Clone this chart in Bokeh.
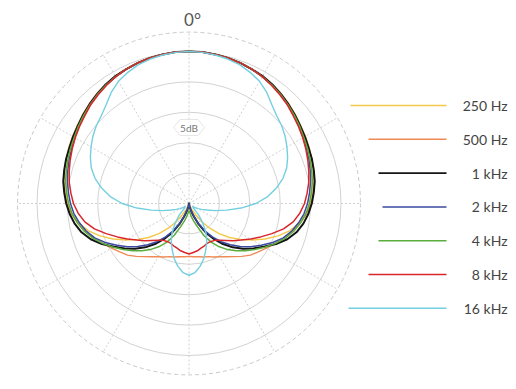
import numpy as np
from bokeh.plotting import figure
from bokeh.models import Range1d
from bokeh.core.properties import value
from bokeh.embed import file_html
from bokeh.resources import INLINE

# ---------------- data (dB vs angle, one half; pattern is symmetric) ----------------
angles = list(range(0, 181, 5))

db_250 = [0, 0, -0.1, -0.2, -0.4, -0.6, -0.9, -1.2, -1.6, -2.0, -2.4, -2.8, -3.2, -3.5, -3.8, -4.1, -4.4, -4.7, -5.1,
          -5.7, -6.6, -7.8, -9.4, -11.2, -13.0, -14.7, -16.3, -18.0, -19.7, -21.4, -23.0, -23.9, -24.5, -24.8, -25.0, -25.0, -25.0]
db_500 = [0, 0, -0.1, -0.2, -0.4, -0.6, -0.8, -1.1, -1.4, -1.8, -2.2, -2.6, -2.9, -3.2, -3.5, -3.8, -4.1, -4.5, -4.9,
          -5.6, -6.4, -7.4, -8.4, -9.4, -10.3, -11.1, -11.8, -12.7, -13.6, -14.3, -14.9, -15.3, -15.7, -15.9, -16.1, -16.2, -16.3]
db_1k = [0, 0, -0.1, -0.2, -0.4, -0.6, -0.8, -1.1, -1.5, -1.9, -2.3, -2.7, -3.0, -3.3, -3.5, -3.75, -4.0, -4.4, -4.8,
         -5.3, -5.9, -6.7, -7.8, -9.2, -10.8, -12.1, -13.4, -14.8, -16.3, -17.9, -19.5, -21.2, -22.8, -23.8, -24.5, -24.9, -25.0]
db_2k = [0, 0, -0.1, -0.2, -0.4, -0.6, -0.9, -1.2, -1.6, -2.0, -2.5, -2.9, -3.3, -3.7, -4.0, -4.35, -4.7, -5.1, -5.5,
         -6.0, -6.7, -7.5, -8.5, -9.8, -11.3, -12.6, -14.0, -15.4, -16.8, -18.3, -19.8, -21.4, -23.0, -24.0, -24.6, -24.9, -25.0]
db_4k = [0, 0, -0.1, -0.2, -0.4, -0.6, -0.9, -1.2, -1.6, -2.0, -2.4, -2.8, -3.2, -3.5, -3.8, -4.1, -4.4, -4.8, -5.2,
         -5.7, -6.4, -7.2, -8.2, -9.4, -10.6, -11.8, -12.9, -14.0, -15.1, -16.3, -17.6, -19.2, -20.9, -22.0, -22.8, -23.5, -23.8]
db_8k = [0, 0, -0.1, -0.2, -0.4, -0.6, -0.9, -1.3, -1.7, -2.1, -2.6, -3.0, -3.4, -3.8, -4.2, -4.6, -5.0, -5.5, -6.0,
         -6.7, -7.6, -8.9, -10.5, -12.0, -13.3, -14.5, -15.5, -16.4, -17.1, -17.6, -17.8, -17.8, -17.6, -17.4, -17.1, -16.9, -16.7]
db_16k = [0, -0.05, -0.2, -0.4, -0.7, -1.2, -1.8, -2.7, -3.8, -4.6, -5.1, -5.7, -6.4, -7.1, -7.9, -9.0, -10.4, -12.0, -14.0,
          -16.4, -18.7, -20.5, -21.9, -22.7, -23.3, -23.8, -24.2, -24.0, -22.5, -21.0, -19.4, -18.1, -16.9, -15.6, -14.5, -13.6, -13.2]

series_labels = ["250 Hz", "500 Hz", "1 kHz", "2 kHz", "4 kHz", "8 kHz", "16 kHz"]
series_data = [db_250, db_500, db_1k, db_2k, db_4k, db_8k, db_16k]
series_colors = ["#f3c94a", "#f08a55", "#141414", "#3b4aa0", "#5aad3c", "#d8262a", "#74cfe0"]
series_widths = [1.4, 1.4, 2.0, 1.5, 1.5, 1.5, 1.4]

ring_db = [-20, -15, -10, -5, 0]
spoke_angles = list(range(0, 360, 30))
db_floor = -25.0
outer_db = 3.2

# ---------------- layout ----------------
S = 152.0 / 25.0          # px per dB
CX, CY = 188.5, 203.0     # chart centre in picture pixels
W, H = 508, 381

def X(px):
    return (px - CX) / S

def Y(py):
    return (CY - py) / S

p = figure(width=W, height=H, output_backend="svg", toolbar_location=None,
           x_range=Range1d(X(0), X(W)), y_range=Range1d(Y(H), Y(0)),
           x_axis_location=None, y_axis_location=None, min_border=0)
p.grid.visible = False
p.outline_line_color = None
p.background_fill_color = "white"
p.border_fill_color = "white"

R_out = outer_db - db_floor

# spokes
sa = np.radians(spoke_angles)
p.segment(x0=[0] * len(sa), y0=[0] * len(sa), x1=list(R_out * np.sin(sa)), y1=list(R_out * np.cos(sa)),
          line_color="#cfcfcf", line_width=1, line_dash="2 2")

# rings
p.circle(x=[0] * len(ring_db), y=[0] * len(ring_db), radius=[d - db_floor for d in ring_db],
         fill_color=None, line_color="#d2d2d2", line_width=1)
p.circle(x=[0], y=[0], radius=[R_out], fill_color=None, line_color="#c8c8c8",
         line_width=1, line_dash="4 3")

# 5dB label box
lx, ly = 0.0, -12.5 - db_floor
hx = [lx + v / S for v in (-15.5, -9, 9, 15.5, 9, -9)]
hy = [ly + v / S for v in (0, 8, 8, 0, -8, -8)]
p.patch(hx, hy, fill_color="white", line_color="#e6e6e6", line_width=1)
p.text(x=[lx], y=[ly], text=["5dB"], text_align="center", text_baseline="middle",
       text_font=value("Lato"), text_font_size="10px", text_color="#777777")

# 0° label
p.text(x=[X(192)], y=[Y(19)], text=["0°"], text_align="center", text_baseline="middle",
       text_font=value("Lato"), text_font_size="17px", text_color="#555555")

# curves
full_ang = np.radians(np.array(angles + [360 - a for a in angles[::-1][1:]], dtype=float))
for dbs, col, lw in zip(series_data, series_colors, series_widths):
    full_db = np.array(dbs + dbs[::-1][1:], dtype=float)
    r = np.clip(full_db - db_floor, 0, None)
    p.line(x=list(r * np.sin(full_ang)), y=list(r * np.cos(full_ang)),
           line_color=col, line_width=lw, line_join="round")

# legend (drawn manually to mimic the reference)
leg_top, leg_step = 105.0, 33.8
leg_line_end = 446.0
leg_line_len = [96, 78, 68, 64, 68, 78, 98]
leg_text_right = 507.0
for i, (lab, col, ln) in enumerate(zip(series_labels, series_colors, leg_line_len)):
    yy = Y(leg_top + i * leg_step)
    p.line(x=[X(leg_line_end - ln), X(leg_line_end)], y=[yy, yy], line_color=col,
           line_width=1.8 if col == "#141414" else 1.5)
    p.text(x=[X(leg_text_right)], y=[yy], text=[lab], text_align="right", text_baseline="middle",
           text_font=value("Lato"), text_font_size="14px", text_color="#444444")

open("out.html", "w").write(file_html(p, INLINE))
